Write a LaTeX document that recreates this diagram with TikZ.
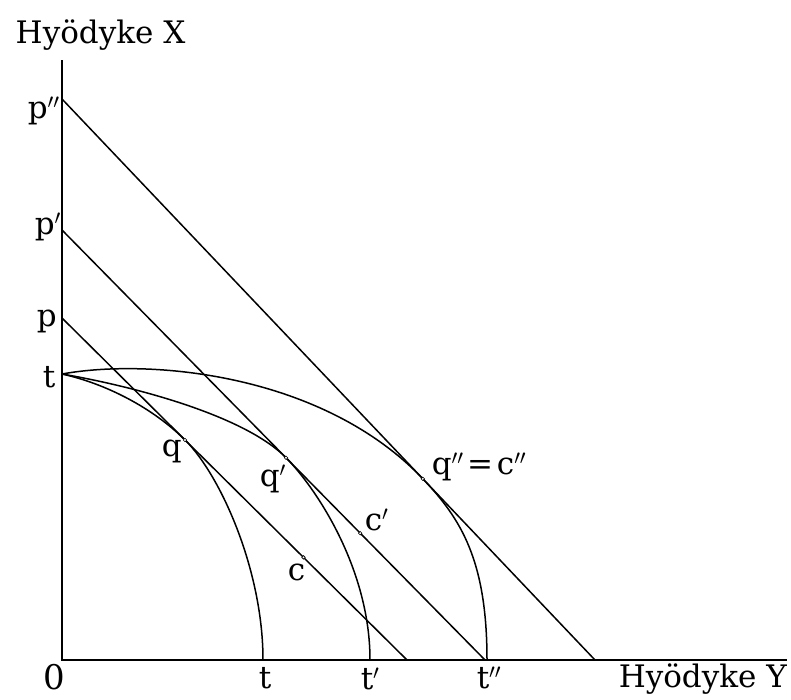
\documentclass[tikz,border=0pt]{standalone}
\usepackage{fontspec}
\setmainfont{DejaVu Serif}
\usetikzlibrary{calc}
\begin{document}
\begin{tikzpicture}[x=1pt,y=-1pt,line width=1.5pt,
  lbl/.style={inner sep=0pt,anchor=base west,font=\fontsize{31}{34}\selectfont},
  zero/.style={inner sep=0pt,anchor=base west,font=\fontsize{34}{38}\selectfont},
  pt/.style={circle,draw,fill=white,inner sep=0pt,minimum size=3.5pt,line width=0.6pt}]
\useasboundingbox (0,0) rectangle (791,699);
% axes
\coordinate (ytop) at (62,60);
\coordinate (O) at (62,660);
\coordinate (xend) at (787,660);
\draw (ytop) -- (O) -- (xend);
% price lines
\coordinate (p) at (62,318);  \coordinate (pe) at (407,660);
\coordinate (p1) at (62,230); \coordinate (p1e) at (485,660);
\coordinate (p2) at (62,99);  \coordinate (p2e) at (595,660);
\draw (p) -- (pe);
\draw (p1) -- (p1e);
\draw (p2) -- (p2e);
% tangency and consumption points
\coordinate (q) at ($(p)!0.3565!(pe)$);
\coordinate (q1) at ($(p1)!0.5296!(p1e)$);
\coordinate (q2) at ($(p2)!0.677!(p2e)$);
\coordinate (c) at ($(p)!0.7!(pe)$);
\coordinate (c1) at ($(p1)!0.705!(p1e)$);
% production curves
\coordinate (t) at (62,374);
\coordinate (t0) at (263,660);
\coordinate (t1) at (370,660);
\coordinate (t2) at (487,660);
\draw (t) .. controls +(45,10) and ($(q)!45pt!(p)$) .. (q)
          .. controls ($(q)!50pt!(pe)$) and +(0,-90) .. (t0);
\draw (t) .. controls +(70,12) and ($(q1)!60pt!(p1)$) .. (q1)
          .. controls ($(q1)!45pt!(p1e)$) and +(0,-90) .. (t1);
\draw (t) .. controls +(88,-16) and ($(q2)!145pt!(p2)$) .. (q2)
          .. controls ($(q2)!55pt!(p2e)$) and +(0,-100) .. (t2);
\node[pt] (dq) at (q) {};
\node[pt] (dq1) at (q1) {};
\node[pt] (dq2) at (q2) {};
\node[pt] (dc) at (c) {};
\node[pt] (dc1) at (c1) {};
% labels
\node[lbl] (lX) at (15,43) {Hyödyke X};
\node[lbl] (lY) at (618,687) {Hyödyke Y};
\node[lbl] (lp2) at (27,118) {p$''$};
\node[lbl] (lp1) at (34,234) {p$'$};
\node[lbl] (lp) at (36,326) {p};
\node[lbl] (lt) at (42,387) {t};
\node[zero] (l0) at (43,689) {0};
\node[lbl] (lt0) at (258,688) {t};
\node[lbl] (lt1) at (360,689) {t$'$};
\node[lbl] (lt2) at (476,688) {t$''$};
\node[lbl] (lq) at (161,456) {q};
\node[lbl] (lq1) at (259,486) {q$'$};
\node[lbl] (lc) at (287,580) {c};
\node[lbl] (lc1) at (364,530) {c$'$};
\node[lbl] (lq2) at (431,474) {q$''$\hspace{0.12em}=\hspace{0.12em}c$''$};
\end{tikzpicture}
\end{document}
